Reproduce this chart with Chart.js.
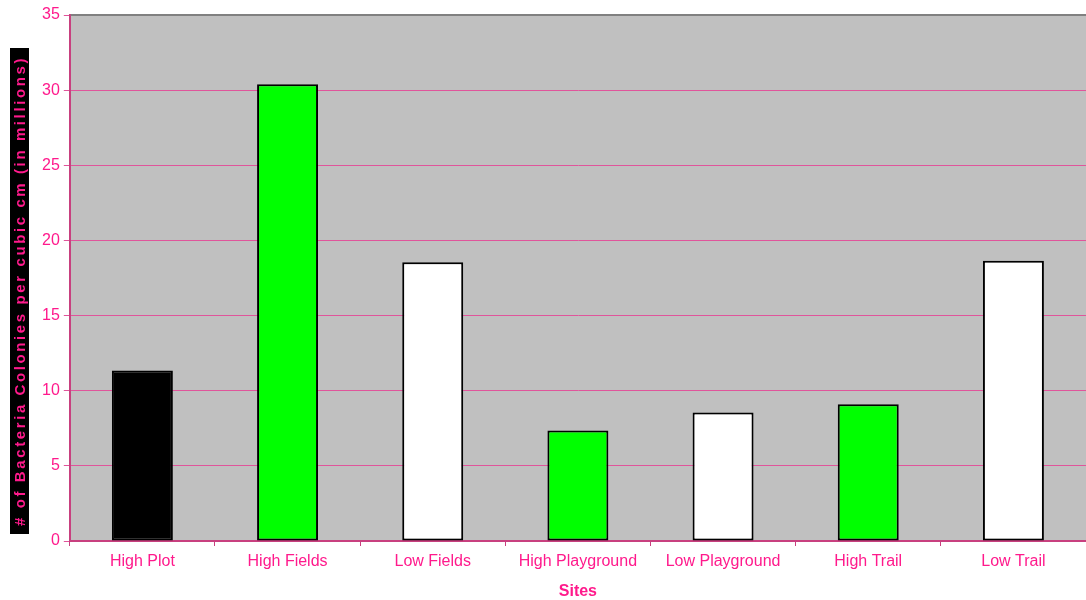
<!DOCTYPE html>
<html>
<head>
<meta charset="utf-8">
<script src="https://cdn.jsdelivr.net/npm/chart.js@4/dist/chart.umd.min.js"></script>
<style>
  html, body { margin: 0; padding: 0; background: #ffffff; }
  #wrap { width: 1086px; height: 600px; }
</style>
</head>
<body>
<div id="wrap"><canvas id="bacteriaChart"></canvas></div>
<script>
// Sites and colony counts (millions per cubic cm)
const sites = ["High Plot", "High Fields", "Low Fields", "High Playground", "Low Playground", "High Trail", "Low Trail"];
const colonies = [11.35, 30.4, 18.55, 7.35, 8.55, 9.1, 18.65];
const barColors = ["#000000", "#00ff00", "#ffffff", "#00ff00", "#ffffff", "#00ff00", "#ffffff"];
const yTitle = "# of Bacteria Colonies per cubic cm (in millions)";
const xTitle = "Sites";

const pink = "#ff1a8c";

// grey plot area, top border and the black box behind the y title
const plotBackground = {
  id: "plotBackground",
  beforeDraw(chart) {
    const { ctx, chartArea } = chart;
    ctx.save();
    ctx.fillStyle = "#c0c0c0";
    ctx.fillRect(chartArea.left, chartArea.top, chartArea.right - chartArea.left, chartArea.bottom - chartArea.top);
    ctx.restore();
  },
  afterDraw(chart) {
    const { ctx, chartArea } = chart;
    ctx.save();
    ctx.strokeStyle = "#808080";
    ctx.lineWidth = 2;
    ctx.beginPath();
    ctx.moveTo(chartArea.left + 1, chartArea.top);
    ctx.lineTo(chartArea.right, chartArea.top);
    ctx.stroke();

    const top = chartArea.top + 33;
    const bottom = chartArea.bottom - 7;
    ctx.fillStyle = "#000000";
    ctx.fillRect(10, top, 19, bottom - top);
    ctx.translate(20, (top + bottom) / 2);
    ctx.rotate(-Math.PI / 2);
    ctx.fillStyle = pink;
    ctx.font = "bold 15px 'Liberation Sans', Arial, sans-serif";
    ctx.letterSpacing = "2.6px";
    ctx.textAlign = "center";
    ctx.textBaseline = "middle";
    ctx.fillText(yTitle, 0, 1);
    ctx.restore();
  }
};

new Chart(document.getElementById("bacteriaChart"), {
  type: "bar",
  data: {
    labels: sites,
    datasets: [
      {
        label: "Colonies",
        data: colonies,
        backgroundColor: barColors,
        borderColor: "#000000",
        borderWidth: 2,
        borderSkipped: false,
        barPercentage: 0.42,
        categoryPercentage: 1.0,
      },
    ],
  },
  plugins: [plotBackground],
  options: {
    responsive: true,
    maintainAspectRatio: false,
    animation: false,
    layout: { padding: { left: 38, top: 15, right: 0, bottom: 0 } },
    plugins: {
      legend: { display: false },
      tooltip: { enabled: false },
    },
    scales: {
      x: {
        offset: true,
        grid: {
          offset: true,
          drawOnChartArea: false,
          color: "#c8407f",
          tickLength: 5,
        },
        border: { color: "#c8407f", width: 2 },
        ticks: {
          color: pink,
          padding: 8,
          font: { family: "'Liberation Sans', Arial, sans-serif", size: 16, lineHeight: 1 },
        },
        title: {
          display: true,
          text: xTitle,
          color: pink,
          padding: { top: 6, bottom: 0 },
          font: { family: "'Liberation Sans', Arial, sans-serif", size: 16, weight: "bold", lineHeight: 1 },
        },
      },
      y: {
        min: 0,
        max: 35,
        ticks: {
          stepSize: 5,
          color: pink,
          padding: 4,
          font: { family: "'Liberation Sans', Arial, sans-serif", size: 16 },
        },
        grid: {
          color: "#e0559b",
          lineWidth: 1,
          tickLength: 6,
        },
        border: { color: "#c8407f", width: 2 },
      },
    },
  },
});
</script>
</body>
</html>
